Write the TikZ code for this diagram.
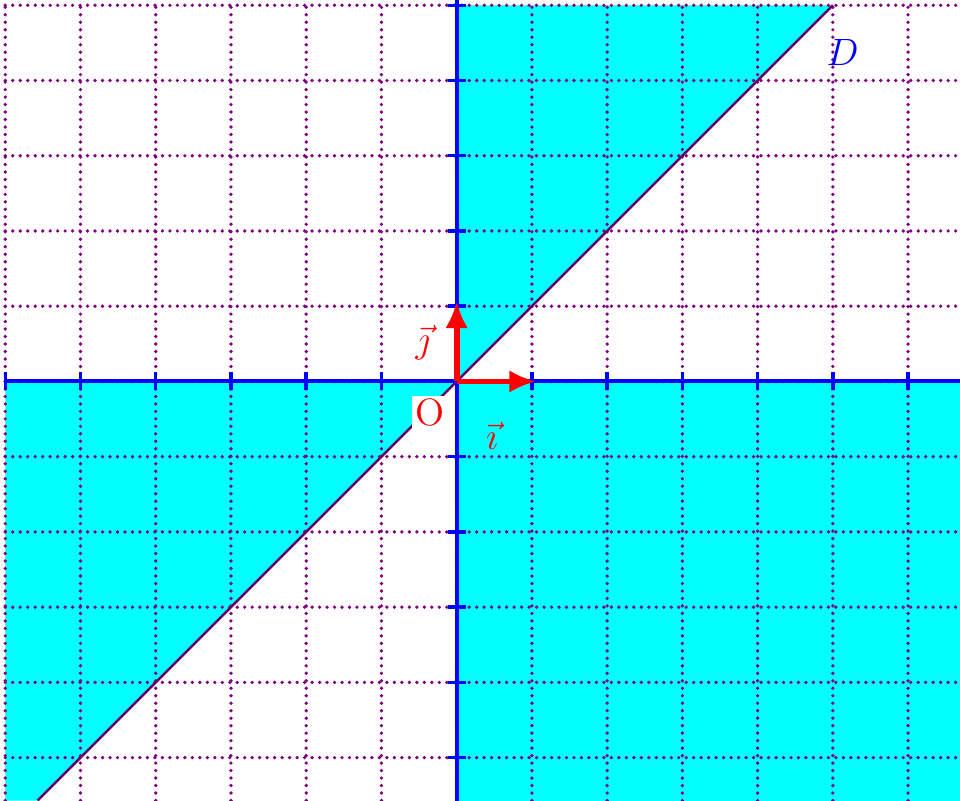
\documentclass[tikz,border=0pt]{standalone}
\usepackage{tikz}
\usetikzlibrary{arrows.meta}
\definecolor{grille}{HTML}{800080}
\definecolor{droite}{HTML}{660066}
\definecolor{zone}{HTML}{00FFFF}

\begin{document}
\begin{tikzpicture}[
  grid line/.style={draw=grille, line width=1.4pt, line cap=round,
                    dash pattern=on 0pt off 2.83pt},
  axis line/.style={draw=blue, line width=1.5pt},
  tick mark/.style={draw=blue, line width=1.3pt},
  region/.style={fill=zone, draw=none},
  vect/.style={draw=red, line width=2.2pt, -{Latex[length=3.6mm, width=3mm]}},
  vlabel/.style={text=red, font=\Large, inner sep=1pt},
]
\useasboundingbox (-6.07,-5.57) rectangle (6.69,5.07);
% regions
\fill[region] (0,0) rectangle (6.69,-5.57);
\fill[region] (0,0) -- (5,5) -- (0,5) -- cycle;
\fill[region] (0,0) -- (-5.57,-5.57) -- (-6,-5.57) -- (-6,0) -- cycle;
% grid
\foreach \x in {-6,...,6} {
  \draw[grid line] (\x,-5.57) -- (\x,5);
}
\foreach \y in {-5,...,5} {
  \draw[grid line] (-6,\y) -- (6.69,\y);
}
% droite D
\coordinate (Dbas) at (-5.57,-5.57);
\coordinate (Dhaut) at (5,5);
\draw[droite, line width=0.9pt] (Dbas) -- (Dhaut);
\node[text=blue, font=\Large] (labD) at (5.13,4.37) {$D$};
% axes
\draw[axis line] (-6,0) -- (6.69,0);
\draw[axis line] (0,-5.57) -- (0,5.07);
\foreach \x in {-6,...,6} {
  \draw[tick mark] (\x,-0.12) -- (\x,0.12);
}
\foreach \y in {-5,...,5} {
  \draw[tick mark] (-0.12,\y) -- (0.12,\y);
}
% repere
\coordinate (O) at (0,0);
\coordinate (I) at (1.06,0);
\coordinate (J) at (0,1.07);
\draw[vect] (O) -- (I);
\draw[vect] (O) -- (J);
\node[vlabel, fill=white] (labO) at (-0.36,-0.41) {O};
\node[vlabel] (labi) at (0.47,-0.73) {$\vec{\imath}$};
\node[vlabel] (labj) at (-0.45,0.52) {$\vec{\jmath}$};
\end{tikzpicture}
\end{document}
